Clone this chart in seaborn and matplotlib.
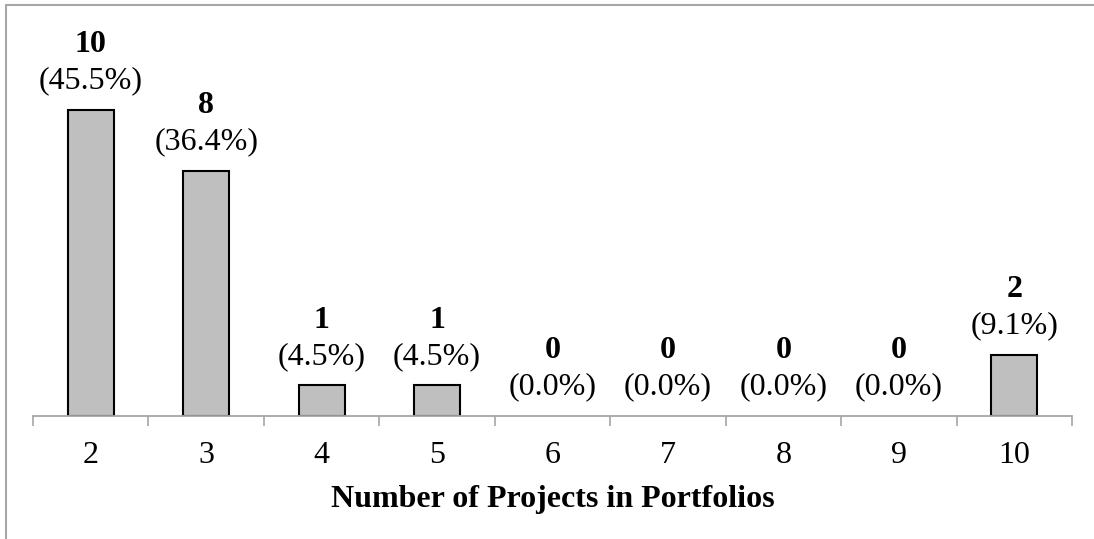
import matplotlib
matplotlib.use("Agg")
import matplotlib.pyplot as plt
import seaborn as sns
import pandas as pd
from matplotlib.lines import Line2D
from matplotlib.ticker import FixedLocator

# data
projects = ["2", "3", "4", "5", "6", "7", "8", "9", "10"]
counts = [10, 8, 1, 1, 0, 0, 0, 0, 2]
shares = ["45.5%", "36.4%", "4.5%", "4.5%", "0.0%", "0.0%", "0.0%", "0.0%", "9.1%"]

sns.set_theme(style="white")
plt.rcParams['font.family'] = ['Liberation Serif', 'DejaVu Serif']
plt.rcParams['text.color'] = 'black'
plt.rcParams['axes.labelcolor'] = 'black'

df = pd.DataFrame({"projects": projects, "count": counts})

fig = plt.figure(figsize=(10.94, 5.39), dpi=100)
ax = fig.add_axes([33 / 1094, 123 / 539, 1039 / 1094, 380 / 539])

sns.barplot(data=df, x="projects", y="count", order=projects, color="#BFBFBF",
            saturation=1, width=0.4, edgecolor="black", linewidth=1.5, ax=ax)

# zero-height bars leave no outline on the axis
for p in ax.patches:
    if p.get_height() == 0:
        p.set_edgecolor("none")

ax.set_xlim(-0.5, len(projects) - 0.5)
ax.set_ylim(0, 380 / 30.6)

for i, (c, s) in enumerate(zip(counts, shares)):
    ax.annotate(str(c), (i, c), xytext=(0, 47), textcoords="offset points",
                ha="center", va="center", fontsize=23, fontweight="bold")
    ax.annotate("(" + s + ")", (i, c), xytext=(0, 21), textcoords="offset points",
                ha="center", va="center", fontsize=23)

for side in ["top", "right", "left"]:
    ax.spines[side].set_visible(False)
ax.spines["bottom"].set_color("#A6A6A6")
ax.spines["bottom"].set_linewidth(1.3)

ax.set_yticks([])
ax.tick_params(axis="x", which="major", length=0, labelsize=23, pad=18, colors="black")
ax.xaxis.set_minor_locator(FixedLocator([i - 0.5 for i in range(len(projects) + 1)]))
ax.tick_params(axis="x", which="minor", length=7, width=1.2, color="#A6A6A6", bottom=True, direction="out")

ax.set_xlabel("Number of Projects in Portfolios", fontsize=23, fontweight="bold", labelpad=11)
ax.set_ylabel("")

# outer frame (top and left edges)
fig.add_artist(Line2D([6 / 1094, 6 / 1094], [0, 1 - 5 / 539], transform=fig.transFigure,
                      color="#A6A6A6", linewidth=1.5))
fig.add_artist(Line2D([6 / 1094, 1], [1 - 5 / 539, 1 - 5 / 539], transform=fig.transFigure,
                      color="#A6A6A6", linewidth=1.5))

fig.savefig("out.png", dpi=100)
